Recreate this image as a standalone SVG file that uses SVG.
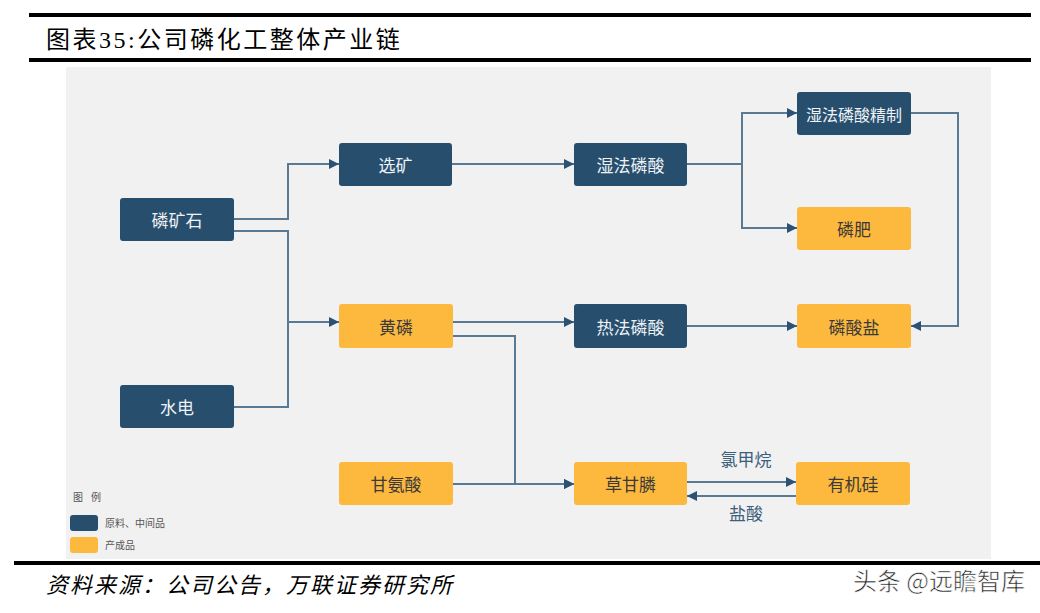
<svg xmlns="http://www.w3.org/2000/svg" width="1040" height="613" viewBox="0 0 1040 613">
<defs>
<marker id="arr" viewBox="0 0 10 10" refX="10" refY="5" markerWidth="10" markerHeight="10" markerUnits="userSpaceOnUse" orient="auto">
<path d="M0,0 L10,5 L0,10 z" fill="#2b5274"/>
</marker>
<style>
.bar{fill:#000}
.dk{fill:#274f6d}
.or{fill:#fdb93d}
.lbl{font-family:"Noto Sans CJK SC","Noto Sans",sans-serif;font-size:17px;text-anchor:middle;dominant-baseline:central}
.w{fill:#eef2f6}
.b{fill:#3a3a3a}
.c{fill:none;stroke:#5a7a94;stroke-width:2}
.el{font-family:"Noto Sans CJK SC","Noto Sans",sans-serif;font-size:17px;fill:#3d5f7c;text-anchor:middle}
.lg{font-family:"Noto Sans CJK SC","Noto Sans",sans-serif;font-size:10px;fill:#555}
</style>
</defs>
<rect width="1040" height="613" fill="#fff"/>
<rect x="29" y="13" width="1002" height="4" class="bar"/>
<text x="46" y="48" font-family="'Liberation Serif','Noto Sans CJK SC',serif" font-size="24" letter-spacing="2.5" fill="#000">图表35:公司磷化工整体产业链</text>
<rect x="29" y="58" width="1002" height="4" class="bar"/>
<rect x="66" y="67" width="925" height="492" fill="#f1f1f1"/>
<rect x="14" y="561" width="1026" height="4" class="bar"/>
<text x="46" y="593" font-family="'Liberation Serif','Noto Sans CJK SC',serif" font-style="italic" font-size="22" letter-spacing="2" fill="#000">资料来源：公司公告，万联证券研究所</text>
<text x="1025" y="590" text-anchor="end" font-family="'Noto Sans CJK SC',sans-serif" font-size="24" fill="#222" stroke="#fff" stroke-width="0.6">头条 @远瞻智库</text>

<g id="connectors">
<path class="c" d="M234,219 H288 V164 H339" marker-end="url(#arr)"/>
<path class="c" d="M234,231 H288 V407 H234"/>
<path class="c" d="M288,322 H339" marker-end="url(#arr)"/>
<path class="c" d="M452,164 H574" marker-end="url(#arr)"/>
<path class="c" d="M687,164 H742 V113 H797" marker-end="url(#arr)"/>
<path class="c" d="M742,164 V228 H797" marker-end="url(#arr)"/>
<path class="c" d="M911,113 H958 V326 H911" marker-end="url(#arr)"/>
<path class="c" d="M453,322 H574" marker-end="url(#arr)"/>
<path class="c" d="M453,336 H515 V484 H574" marker-end="url(#arr)"/>
<path class="c" d="M453,484 H574" marker-end="url(#arr)"/>
<path class="c" d="M687,326 H797" marker-end="url(#arr)"/>
<path class="c" d="M687,482 H796" marker-end="url(#arr)"/>
<path class="c" d="M796,496 H687" marker-end="url(#arr)"/>
<text class="el" x="746" y="466">氯甲烷</text>
<text class="el" x="746" y="520">盐酸</text>
</g>

<g id="n-linkuangshi"><rect class="dk" x="120" y="198" width="114" height="43" rx="3"/><text class="lbl w" x="177" y="219.5">磷矿石</text></g>
<g id="n-shuidian"><rect class="dk" x="120" y="385" width="114" height="43" rx="3"/><text class="lbl w" x="177" y="406.5">水电</text></g>
<g id="n-xuankuang"><rect class="dk" x="339" y="143" width="113" height="43" rx="3"/><text class="lbl w" x="395.5" y="164.5">选矿</text></g>
<g id="n-huanglin"><rect class="or" x="339" y="304" width="114" height="44" rx="3"/><text class="lbl b" x="396" y="326">黄磷</text></g>
<g id="n-ganansuan"><rect class="or" x="339" y="462" width="114" height="43" rx="3"/><text class="lbl b" x="396" y="483.5">甘氨酸</text></g>
<g id="n-shifalinsuan"><rect class="dk" x="574" y="143" width="113" height="43" rx="3"/><text class="lbl w" x="630.5" y="164.5">湿法磷酸</text></g>
<g id="n-refalinsuan"><rect class="dk" x="574" y="304" width="113" height="44" rx="3"/><text class="lbl w" x="630.5" y="326">热法磷酸</text></g>
<g id="n-caoganlin"><rect class="or" x="574" y="462" width="113" height="43" rx="3"/><text class="lbl b" x="630.5" y="483.5">草甘膦</text></g>
<g id="n-jingzhi"><rect class="dk" x="797" y="92" width="114" height="43" rx="3"/><text class="lbl w" x="854" y="113.5" style="font-size:16px">湿法磷酸精制</text></g>
<g id="n-linfei"><rect class="or" x="797" y="207" width="114" height="43" rx="3"/><text class="lbl b" x="854" y="228.5">磷肥</text></g>
<g id="n-linsuanyan"><rect class="or" x="797" y="304" width="114" height="44" rx="3"/><text class="lbl b" x="854" y="326">磷酸盐</text></g>
<g id="n-youjigui"><rect class="or" x="796" y="462" width="114" height="43" rx="3"/><text class="lbl b" x="853" y="483.5">有机硅</text></g>

<g id="legend">
<text class="lg" x="73" y="501" letter-spacing="8">图例</text>
<rect class="dk" x="70" y="515" width="28" height="16" rx="3"/>
<text class="lg" x="105" y="527">原料、中间品</text>
<rect class="or" x="70" y="537" width="28" height="16" rx="3"/>
<text class="lg" x="105" y="549">产成品</text>
</g>
</svg>
